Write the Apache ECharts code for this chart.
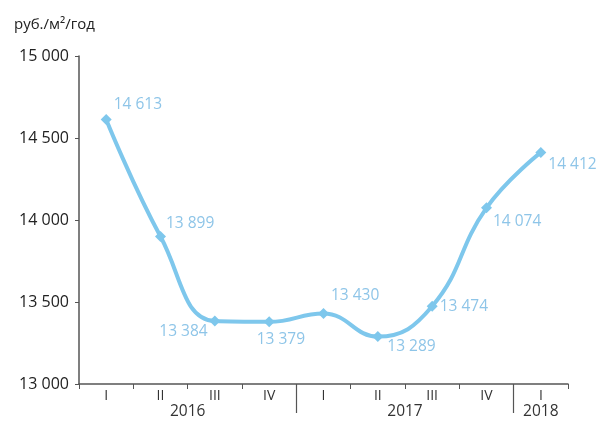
<!DOCTYPE html>
<html><head><meta charset="utf-8">
<script src="https://cdn.jsdelivr.net/npm/echarts@6/dist/echarts.min.js"></script>
<style>html,body{margin:0;padding:0;background:#fff}#c{width:598px;height:422px}</style>
</head><body><div id="c"></div>
<script>
var unitTitle = 'руб./м²/год';
var quarters = ['I','II','III','IV','I','II','III','IV','I'];
var values = [14613, 13899, 13384, 13379, 13430, 13289, 13474, 14074, 14412];
var years = ['2016','2017','2018'];
var quartersPerYear = [4, 4, 1];
var yTicks = [13000, 13500, 14000, 14500, 15000];

var labelOffsets = [[-3,-15],[-5,-13],[-66,11],[-23,18],[-3,-18],[-1,10],[-3,0],[-4,14],[-3,12]];

function fmt(v){ return String(v).replace(/\B(?=(\d{3})+(?!\d))/g, ' '); }

var yearCenters = [], yearBounds = [], acc = 0;
quartersPerYear.forEach(function(n, i){
  yearCenters.push(acc + n/2);
  acc += n;
  if (i < quartersPerYear.length - 1) yearBounds.push(acc);
});

var lineColor = '#7ec7ec', labelColor = '#8ec5e8';
var data = values.map(function(v, i){
  return { value: v, label: { offset: labelOffsets[i] } };
});
var font = 'Open Sans';

var chart = echarts.init(document.getElementById('c'));
chart.setOption({
  animation: false,
  title: { text: unitTitle, left: 9, top: 12, textStyle: { fontSize: 15, fontWeight: 'normal', color: '#222', fontFamily: font } },
  grid: { left: 79, right: 30, top: 56, bottom: 38 },
  xAxis: [{
    type: 'category', data: quarters, boundaryGap: true,
    axisLine: { lineStyle: { color: '#555', width: 1.5 } },
    axisTick: { show: true, length: 5, lineStyle: { color: '#555' } },
    axisLabel: { color: '#333', fontSize: 14, margin: 5, fontFamily: font }
  }, {
    type: 'value', position: 'bottom', min: 0, max: quarters.length,
    axisLine: { show: false }, splitLine: { show: false },
    axisTick: { show: true, customValues: yearBounds, length: 29, lineStyle: { color: '#555', width: 1.2 } },
    axisLabel: { customValues: yearCenters, margin: 20, color: '#333', fontSize: 15.5, fontFamily: font,
      formatter: function(v){ var i = yearCenters.indexOf(v); return i >= 0 ? years[i] : ''; } }
  }],
  yAxis: {
    type: 'value', min: yTicks[0], max: yTicks[yTicks.length-1], interval: 500,
    splitLine: { show: false },
    axisLine: { show: true, lineStyle: { color: '#555', width: 1.5 } },
    axisTick: { show: true, length: 4, lineStyle: { color: '#555' } },
    axisLabel: { color: '#222', fontSize: 16, margin: 10, fontFamily: font, formatter: fmt }
  },
  series: [{
    type: 'line', xAxisIndex: 0, data: data, smooth: 0.45,
    symbol: 'diamond', symbolSize: 11,
    lineStyle: { color: lineColor, width: 4 },
    itemStyle: { color: lineColor },
    label: { show: true, position: 'right', color: labelColor, fontSize: 15.5, fontFamily: font, formatter: function(p){ return fmt(p.value); } }
  }]
});
</script></body></html>
